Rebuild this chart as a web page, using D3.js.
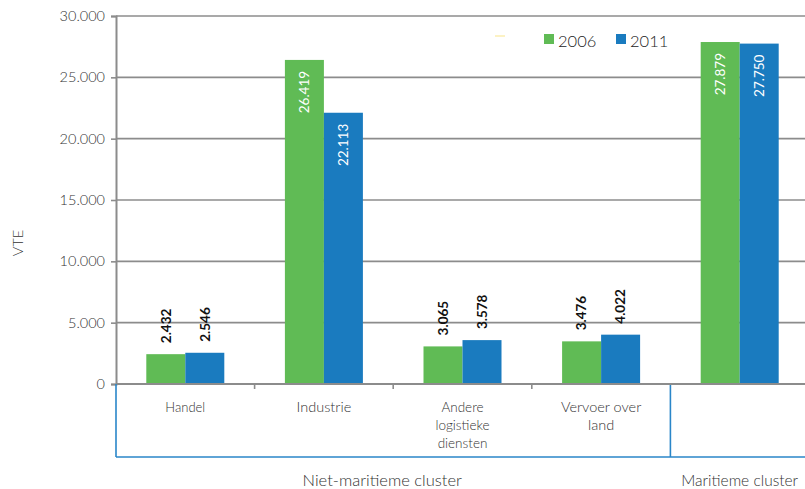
<!DOCTYPE html>
<html>
<head>
<meta charset="utf-8">
<script src="https://cdn.jsdelivr.net/npm/d3@7"></script>
<style>
  html, body { margin: 0; padding: 0; background: #fff; }
  svg { display: block; font-family: Lato, "Open Sans", sans-serif; }
</style>
</head>
<body>
<svg id="chart" width="805" height="489"></svg>
<script>
// Werkgelegenheid (VTE) per sector, 2006 en 2011
const categories = ["Handel", "Industrie", "Andere logistieke diensten", "Vervoer over land", "Maritiem"];
const categoryLines = [["Handel"], ["Industrie"], ["Andere", "logistieke", "diensten"], ["Vervoer over", "land"], []];
const categorySizes = [13, 14.5, 13.5, 14.5, 14];
const seriesNames = ["2006", "2011"];
const values2006 = [2432, 26419, 3065, 3476, 27879];
const values2011 = [2546, 22113, 3578, 4022, 27750];
const yTicks = [0, 5000, 10000, 15000, 20000, 25000, 30000];
const clusters = [
  { name: "Niet-maritieme cluster", from: 0, to: 3, dx: -11, size: 16.5 },
  { name: "Maritieme cluster", from: 4, to: 4, dx: 0, size: 15.5 }
];
const colors = ["#60bb55", "#1a7bbf"];

const svg = d3.select("#chart");
const plotLeft = 116, plotRight = 809, plotTop = 16, plotBottom = 384;
const textColor = "#333";
const lightWeight = 300;

const x0 = d3.scaleBand().domain(categories).range([plotLeft, plotRight]).paddingInner(0).paddingOuter(0);
const groupW = 78;
const x1 = d3.scaleBand().domain(seriesNames).range([0, groupW]);
const y = d3.scaleLinear().domain([0, 30000]).range([plotBottom, plotTop]);

const fmt = v => d3.format(",")(v).replace(/,/g, ".");

// horizontal gridlines
svg.append("g").selectAll("line").data(yTicks).join("line")
  .attr("x1", plotLeft).attr("x2", 805)
  .attr("y1", d => y(d)).attr("y2", d => y(d))
  .attr("stroke", "#8c8c8c").attr("stroke-width", 1.6);

// y axis
const yAxis = d3.axisLeft(y).tickValues(yTicks).tickSize(5).tickPadding(6)
  .tickFormat(d => d === 0 ? "0" : fmt(d));
const gy = svg.append("g").attr("transform", `translate(${plotLeft},0)`).call(yAxis);
gy.select(".domain").attr("stroke", "#8c8c8c").attr("stroke-width", 2);
gy.selectAll(".tick line").attr("stroke", "#8c8c8c").attr("stroke-width", 1.6);
gy.selectAll(".tick text").attr("fill", textColor).attr("font-size", 14.5)
  .attr("font-weight", lightWeight).attr("font-family", "Lato, sans-serif");

// y title
svg.append("text")
  .attr("transform", "translate(23,243) rotate(-90)")
  .attr("text-anchor", "middle").attr("font-size", 14.5).attr("font-weight", lightWeight)
  .attr("fill", textColor)
  .text("VTE");

// bars
const data = categories.map((c, i) => ({ cat: c, vals: [values2006[i], values2011[i]] }));
const groups = svg.append("g").selectAll("g").data(data).join("g")
  .attr("transform", d => `translate(${x0(d.cat) + (x0.bandwidth() - groupW) / 2},0)`);

groups.selectAll("rect").data(d => d.vals.map((v, j) => ({ v, s: seriesNames[j], j })))
  .join("rect")
  .attr("x", d => x1(d.s)).attr("width", x1.bandwidth())
  .attr("y", d => y(d.v)).attr("height", d => y(0) - y(d.v))
  .attr("fill", d => colors[d.j]);

// value labels: white inside tall bars, dark above short ones
groups.selectAll("text").data(d => d.vals.map((v, j) => ({ v, s: seriesNames[j], j })))
  .join("text")
  .attr("transform", d => {
    const cx = x1(d.s) + x1.bandwidth() / 2;
    const ty = d.v > 10000 ? y(d.v) + 11 : y(d.v) - 11;
    return `translate(${cx},${ty}) rotate(-90)`;
  })
  .attr("dy", "0.35em")
  .attr("text-anchor", d => d.v > 10000 ? "end" : "start")
  .attr("font-size", 13.5)
  .attr("font-weight", d => d.v > 10000 ? 400 : 700)
  .attr("fill", d => d.v > 10000 ? "#fff" : "#111")
  .text(d => fmt(d.v));

// x axis baseline and category ticks
svg.append("line").attr("x1", plotLeft).attr("x2", 805).attr("y1", plotBottom).attr("y2", plotBottom)
  .attr("stroke", "#8c8c8c").attr("stroke-width", 2);
const bounds = categories.map(c => x0(c)).concat([plotRight]);
svg.append("g").selectAll("line").data(bounds.slice(1, 4)).join("line")
  .attr("x1", d => d).attr("x2", d => d).attr("y1", plotBottom).attr("y2", plotBottom + 5)
  .attr("stroke", "#8c8c8c").attr("stroke-width", 1.6);

// category labels
const catText = svg.append("g").selectAll("text").data(categories).join("text")
  .attr("text-anchor", "middle").attr("fill", textColor).attr("font-weight", lightWeight)
  .attr("font-size", (d, i) => categorySizes[i]);
catText.each(function(d, i) {
  const cx = x0(d) + x0.bandwidth() / 2;
  d3.select(this).selectAll("tspan").data(categoryLines[i]).join("tspan")
    .attr("x", cx).attr("y", (t, k) => 412 + k * 18).text(t => t);
});

// cluster frame
const boxBottom = 457;
const blue = "#2a86c9";
svg.append("line").attr("x1", plotLeft).attr("x2", plotLeft).attr("y1", plotBottom).attr("y2", boxBottom)
  .attr("stroke", blue).attr("stroke-width", 1.6);
svg.append("line").attr("x1", x0(categories[4])).attr("x2", x0(categories[4]))
  .attr("y1", plotBottom + 1).attr("y2", boxBottom).attr("stroke", blue).attr("stroke-width", 1.6);
svg.append("line").attr("x1", plotLeft).attr("x2", 805).attr("y1", boxBottom).attr("y2", boxBottom)
  .attr("stroke", blue).attr("stroke-width", 1.6);

// cluster labels
svg.append("g").selectAll("text").data(clusters).join("text")
  .attr("x", d => (x0(categories[d.from]) + x0(categories[d.to]) + x0.bandwidth()) / 2 + d.dx)
  .attr("y", 486).attr("text-anchor", "middle")
  .attr("font-size", d => d.size).attr("font-weight", lightWeight).attr("fill", textColor)
  .text(d => d.name);

// legend
const legend = svg.append("g");
legend.append("line").attr("x1", 495).attr("x2", 505).attr("y1", 36).attr("y2", 36)
  .attr("stroke", "#fbeeb0").attr("stroke-width", 1.5);
const legendX = [544, 616];
seriesNames.forEach((s, i) => {
  legend.append("rect").attr("x", legendX[i]).attr("y", 34).attr("width", 10).attr("height", 10)
    .attr("fill", colors[i]);
  legend.append("text").attr("x", legendX[i] + 14).attr("y", 47).attr("font-size", 16.5)
    .attr("font-weight", lightWeight).attr("fill", "#222").text(s);
});
</script>
</body>
</html>
